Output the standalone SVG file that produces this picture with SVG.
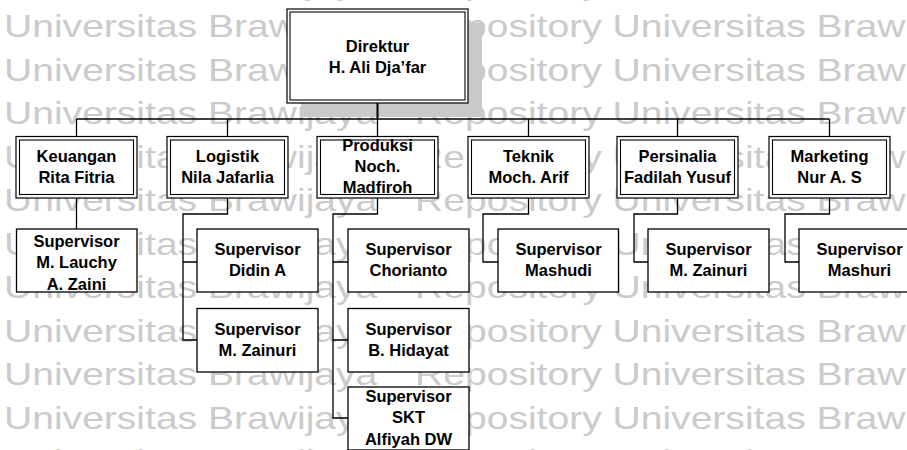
<svg xmlns="http://www.w3.org/2000/svg" xmlns:xlink="http://www.w3.org/1999/xlink" width="907" height="450" viewBox="0 0 907 450">
  <style>
    .wm { font-family: "Liberation Sans", Arial, sans-serif; font-size: 31px; fill: #cbcbcb; }
    .lbl { font-family: "Liberation Sans", Arial, sans-serif; font-size: 16.5px; font-weight: bold; fill: #000; text-anchor: middle; }
    .box { fill: #fff; stroke: #000; stroke-width: 1.3; }
    .outer { fill: #fff; stroke: #000; stroke-width: 1.2; }
    .inner { fill: none; stroke: #000; stroke-width: 1.1; }
    .wire { fill: none; stroke: #000; stroke-width: 1.3; }
  </style>
  <defs>
    <g id="wm-row">
      <text class="wm" x="3.2" y="0">Universitas Brawijaya</text>
      <text class="wm" x="329.4" y="0">Repository Universitas Brawijaya</text>
    </g>
  </defs>

  <rect width="907" height="450" fill="#fff"/>

  <!-- background watermark rows -->
  <g id="watermark" transform="scale(1.26 1)">
    <use xlink:href="#wm-row" y="-6.5"/>
    <use xlink:href="#wm-row" y="37"/>
    <use xlink:href="#wm-row" y="80.5"/>
    <use xlink:href="#wm-row" y="124"/>
    <use xlink:href="#wm-row" y="167.5"/>
    <use xlink:href="#wm-row" y="211"/>
    <use xlink:href="#wm-row" y="254.5"/>
    <use xlink:href="#wm-row" y="298"/>
    <use xlink:href="#wm-row" y="341.5"/>
    <use xlink:href="#wm-row" y="385"/>
    <use xlink:href="#wm-row" y="428.5"/>
    <use xlink:href="#wm-row" y="472"/>
  </g>

  <!-- director drop shadow -->
  <rect x="301" y="23" width="181" height="94" fill="#c9c9c9"/>

  <!-- connectors -->
  <g id="connectors">
    <line x1="377.5" y1="103" x2="377.5" y2="119" stroke="#000" stroke-width="2"/>
    <line x1="76.5" y1="119" x2="829.5" y2="119" stroke="#000" stroke-width="1.6"/>
    <path class="wire" d="M76.5 119V136.5 M227.5 119V136.5 M377.5 119V136.5 M528.5 119V136.5 M677.5 119V136.5 M829.5 119V136.5"/>
    <!-- Keuangan -->
    <path class="wire" d="M76.5 198V229"/>
    <!-- Logistik -->
    <path class="wire" d="M227.5 198V214H183V340H197 M183 262H197"/>
    <!-- Produksi -->
    <path class="wire" d="M377.5 198V214H333V418H348 M333 262H348 M333 340H348"/>
    <!-- Teknik -->
    <path class="wire" d="M528.5 198V214H483V262H498"/>
    <!-- Persinalia -->
    <path class="wire" d="M677.5 198V214H634V262H648"/>
    <!-- Marketing -->
    <path class="wire" d="M829.5 198V214H785V262H799"/>
  </g>

  <!-- director -->
  <g id="direktur">
    <rect class="outer" x="287" y="9" width="181" height="94"/>
    <rect class="inner" x="290" y="12" width="175" height="88"/>
    <text class="lbl" x="377.5" y="52">Direktur</text>
    <text class="lbl" x="377.5" y="73">H. Ali Dja’far</text>
  </g>

  <!-- department heads -->
  <g id="keuangan">
    <rect class="outer" x="16" y="136.5" width="121" height="61.5"/>
    <rect class="inner" x="19.5" y="140" width="114" height="54.5"/>
    <text class="lbl" x="76.5" y="161.5">Keuangan</text>
    <text class="lbl" x="76.5" y="182.5">Rita Fitria</text>
  </g>
  <g id="logistik">
    <rect class="outer" x="167" y="136.5" width="121" height="61.5"/>
    <rect class="inner" x="170.5" y="140" width="114" height="54.5"/>
    <text class="lbl" x="227.5" y="161.5">Logistik</text>
    <text class="lbl" x="227.5" y="182.5">Nila Jafarlia</text>
  </g>
  <g id="produksi">
    <rect class="outer" x="317" y="136.5" width="121" height="61.5"/>
    <rect class="inner" x="320.5" y="140" width="114" height="54.5"/>
    <text class="lbl" x="377.5" y="150.5">Produksi</text>
    <text class="lbl" x="377.5" y="171.5">Noch.</text>
    <text class="lbl" x="377.5" y="192.5">Madfiroh</text>
  </g>
  <g id="teknik">
    <rect class="outer" x="468" y="136.5" width="121" height="61.5"/>
    <rect class="inner" x="471.5" y="140" width="114" height="54.5"/>
    <text class="lbl" x="528.5" y="161.5">Teknik</text>
    <text class="lbl" x="528.5" y="182.5">Moch. Arif</text>
  </g>
  <g id="persinalia">
    <rect class="outer" x="617" y="136.5" width="121" height="61.5"/>
    <rect class="inner" x="620.5" y="140" width="114" height="54.5"/>
    <text class="lbl" x="677.5" y="161.5">Persinalia</text>
    <text class="lbl" x="677.5" y="182.5">Fadilah Yusuf</text>
  </g>
  <g id="marketing">
    <rect class="outer" x="769" y="136.5" width="121" height="61.5"/>
    <rect class="inner" x="772.5" y="140" width="114" height="54.5"/>
    <text class="lbl" x="829.5" y="161.5">Marketing</text>
    <text class="lbl" x="829.5" y="182.5">Nur A. S</text>
  </g>

  <!-- supervisors -->
  <g id="sup-lauchy">
    <rect class="box" x="16.5" y="229" width="120.5" height="63"/>
    <text class="lbl" x="76.5" y="246.5">Supervisor</text>
    <text class="lbl" x="76.5" y="268">M. Lauchy</text>
    <text class="lbl" x="76.5" y="289.5">A. Zaini</text>
  </g>
  <g id="sup-didin">
    <rect class="box" x="197" y="229" width="121" height="63"/>
    <text class="lbl" x="257.5" y="255">Supervisor</text>
    <text class="lbl" x="257.5" y="276">Didin A</text>
  </g>
  <g id="sup-zainuri-logistik">
    <rect class="box" x="197" y="308.5" width="121" height="63.5"/>
    <text class="lbl" x="257.5" y="334.5">Supervisor</text>
    <text class="lbl" x="257.5" y="355.5">M. Zainuri</text>
  </g>
  <g id="sup-chorianto">
    <rect class="box" x="348" y="229" width="121" height="63"/>
    <text class="lbl" x="408.5" y="255">Supervisor</text>
    <text class="lbl" x="408.5" y="276">Chorianto</text>
  </g>
  <g id="sup-hidayat">
    <rect class="box" x="348" y="308.5" width="121" height="63.5"/>
    <text class="lbl" x="408.5" y="334.5">Supervisor</text>
    <text class="lbl" x="408.5" y="355.5">B. Hidayat</text>
  </g>
  <g id="sup-skt">
    <rect class="box" x="348" y="387" width="121" height="63"/>
    <text class="lbl" x="408.5" y="401.5">Supervisor</text>
    <text class="lbl" x="408.5" y="423">SKT</text>
    <text class="lbl" x="408.5" y="444.5">Alfiyah DW</text>
  </g>
  <g id="sup-mashudi">
    <rect class="box" x="498" y="229" width="120.5" height="63"/>
    <text class="lbl" x="558.5" y="255">Supervisor</text>
    <text class="lbl" x="558.5" y="276">Mashudi</text>
  </g>
  <g id="sup-zainuri-persinalia">
    <rect class="box" x="648" y="229" width="121" height="63"/>
    <text class="lbl" x="708.5" y="255">Supervisor</text>
    <text class="lbl" x="708.5" y="276">M. Zainuri</text>
  </g>
  <g id="sup-mashuri">
    <rect class="box" x="799" y="229" width="121" height="63"/>
    <text class="lbl" x="859.5" y="255">Supervisor</text>
    <text class="lbl" x="859.5" y="276">Mashuri</text>
  </g>
</svg>
